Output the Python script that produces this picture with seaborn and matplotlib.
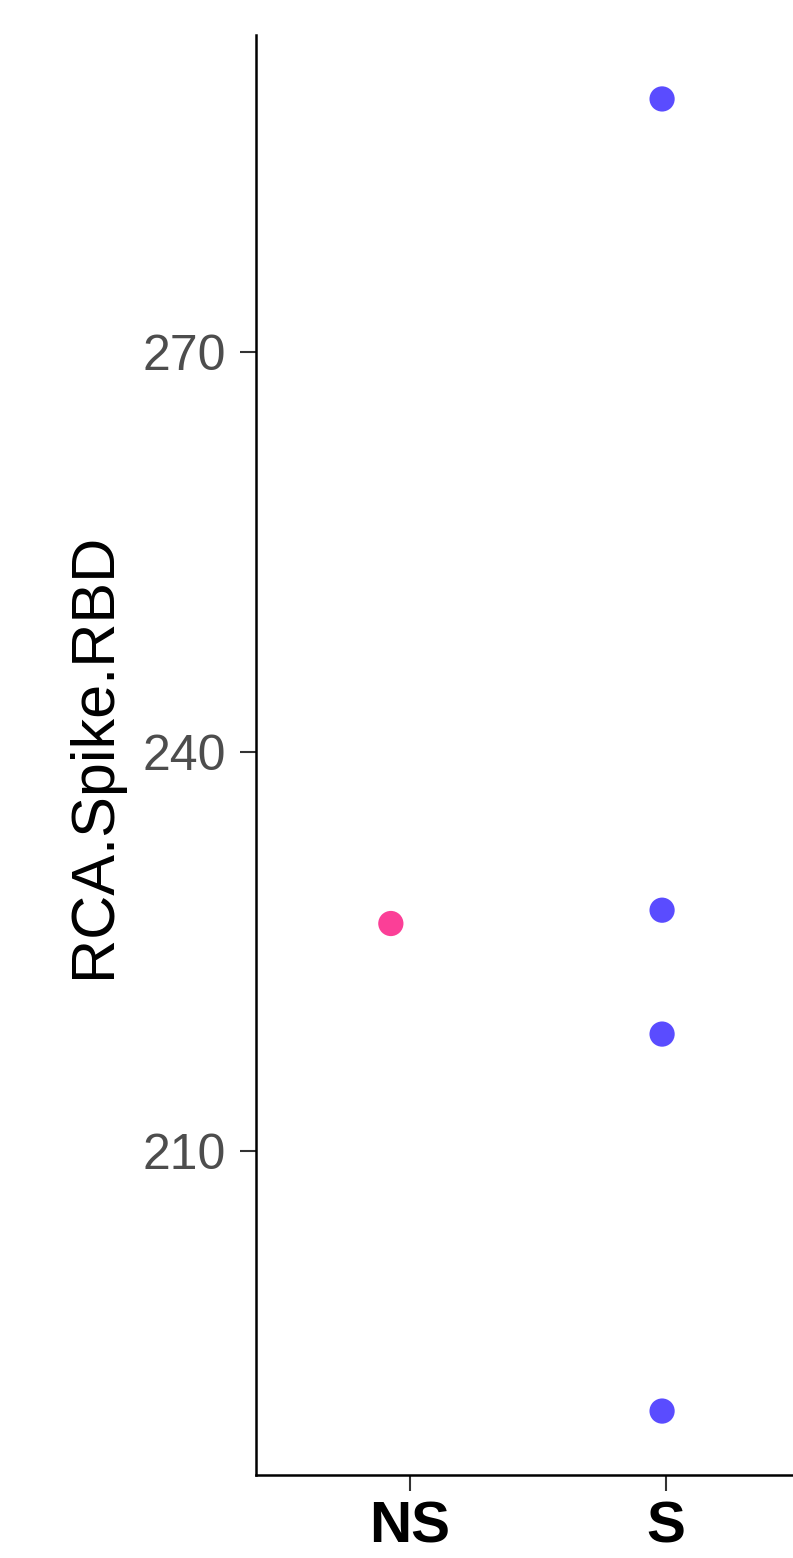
import matplotlib
matplotlib.use("Agg")
import matplotlib.pyplot as plt
import seaborn as sns
import pandas as pd

# Data
groups = ["NS", "S", "S", "S", "S"]
values = [227.1, 289.0, 228.1, 218.8, 190.5]
jitter = [-0.074, -0.016, -0.016, -0.016, -0.016]
categories = ["NS", "S"]
palette = {"NS": "#FB3F97", "S": "#5A4CFF"}
yticks = [210, 240, 270]

sns.set_theme(style="white")
plt.rcParams["font.family"] = ["Liberation Sans", "DejaVu Sans"]

df = pd.DataFrame({"group": groups, "value": values, "jit": jitter})
df["xpos"] = df["group"].map({c: i for i, c in enumerate(categories)}) + df["jit"]

fig = plt.figure(figsize=(7.93, 15.58), dpi=100)
W, H = 793, 1558
ax = fig.add_axes([256 / W, (H - 1475) / H, (820 - 256) / W, (1475 - 35) / H])

sns.scatterplot(data=df, x="xpos", y="value", hue="group", palette=palette,
                s=330, edgecolor="none", legend=False, ax=ax)

ax.set_xlim(-0.6, 1.6)
ax.set_ylim(185.7, 293.8)
ax.set_xticks(range(len(categories)))
ax.set_xticklabels(categories, fontsize=42, fontweight="bold", color="black")
ax.set_yticks(yticks)
ax.set_yticklabels([str(t) for t in yticks], fontsize=36, color="#4D4D4D")
ax.tick_params(axis="both", bottom=True, left=True, direction="out",
               length=11.5, width=1.5, color="#333333")
ax.tick_params(axis="y", pad=10)
ax.tick_params(axis="x", pad=7)
ax.set_xlabel("")
ax.set_ylabel("RCA.Spike.RBD", fontsize=44, color="black", labelpad=14)

for side in ["top", "right"]:
    ax.spines[side].set_visible(False)
for side in ["left", "bottom"]:
    ax.spines[side].set_linewidth(1.8)
    ax.spines[side].set_color("black")
ax.grid(False)
ax.set_facecolor("white")

fig.savefig("out.png", dpi=100, facecolor="white")
